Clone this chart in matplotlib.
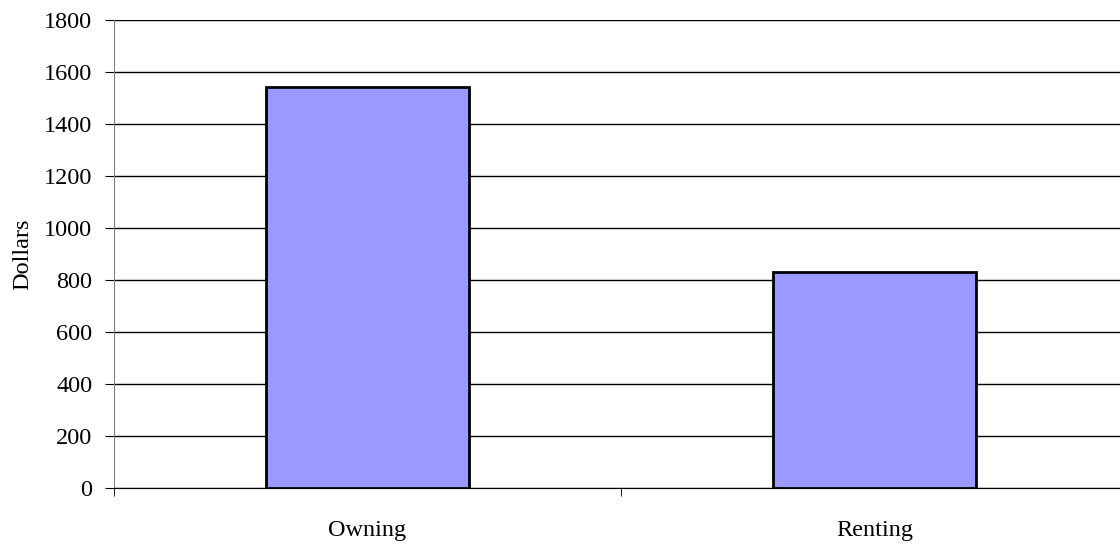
import matplotlib
matplotlib.use("Agg")
import matplotlib.pyplot as plt
from matplotlib.ticker import FixedLocator

# Donnees
categories = ["Owning", "Renting"]
valeurs = [1542, 831]
yticks = [0, 200, 400, 600, 800, 1000, 1200, 1400, 1600, 1800]

plt.rcParams['font.family'] = ['Liberation Serif', 'DejaVu Serif']

fig = plt.figure(figsize=(11.2, 5.44), dpi=100)
ax = fig.add_axes([114 / 1120, 56 / 544, 1014 / 1120, 468 / 544])

x = list(range(len(categories)))
ax.bar(x, valeurs, width=0.4, color='#9999FF', edgecolor='black', linewidth=2, zorder=3)

ax.set_xlim(-0.5, len(categories) - 0.5)
ax.set_ylim(0, 1800)
ax.set_yticks(yticks)
ax.set_yticklabels([str(v) for v in yticks], fontsize=17.5)
ax.yaxis.grid(True, color='black', linewidth=1)
ax.set_axisbelow(True)

ax.set_xticks(x)
ax.set_xticklabels(categories, fontsize=17.5)
ax.xaxis.set_minor_locator(FixedLocator([i - 0.5 for i in range(len(categories) + 1)]))
ax.tick_params(axis='x', which='major', length=0, pad=23)
ax.tick_params(axis='x', which='minor', length=6, direction='out', color='black')
ax.tick_params(axis='y', length=6.5, direction='out', pad=9, color='black')

ax.set_ylabel("Dollars", fontsize=17.5, labelpad=8)

for side in ['top', 'right']:
    ax.spines[side].set_visible(False)
ax.spines['left'].set_color('#808080')
ax.spines['bottom'].set_color('black')

fig.savefig("out.png", dpi=100)
